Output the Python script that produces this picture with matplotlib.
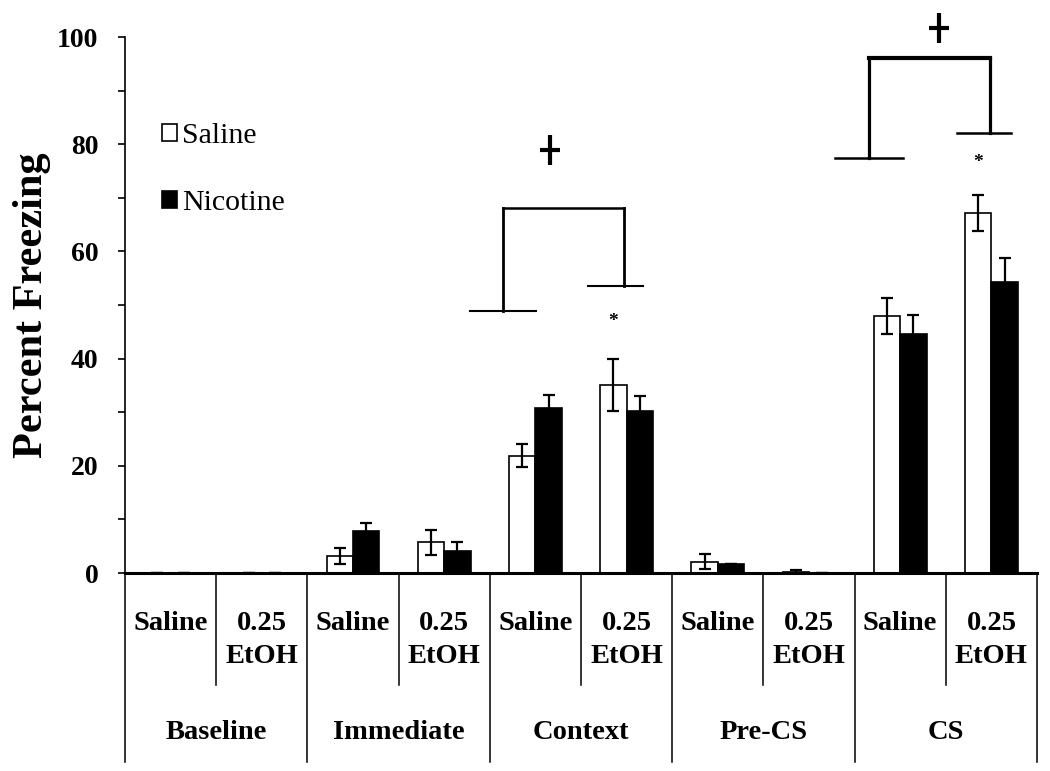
import numpy as np
import matplotlib.pyplot as plt
from matplotlib.transforms import blended_transform_factory

# data
phases = ["Baseline", "Immediate", "Context", "Pre-CS", "CS"]
groups = ["Saline", "0.25\nEtOH"]
saline = [0, 0, 3.2, 5.7, 21.9, 35.1, 2.1, 0.2, 47.9, 67.2]
saline_err = [0, 0, 1.5, 2.4, 2.2, 4.9, 1.4, 0.3, 3.4, 3.3]
nicotine = [0, 0, 7.8, 4.1, 30.8, 30.2, 1.6, 0.0, 44.5, 54.3]
nicotine_err = [0, 0, 1.5, 1.6, 2.5, 2.8, 0.0, 0.0, 3.6, 4.4]

plt.rcParams['font.family'] = ['Liberation Serif', 'DejaVu Serif']

fig = plt.figure(figsize=(10.5, 7.71), dpi=100)
ax = fig.add_axes([0.119, 0.2568, 0.8686, 0.6952])

x = np.arange(len(saline))
w = 0.29
off = 0.145
ax.bar(x - off, saline, w, color='white', edgecolor='black', lw=1.2,
       label='Saline', zorder=2)
ax.bar(x + off, nicotine, w, color='black', edgecolor='black', lw=1.2,
       label='Nicotine', zorder=2)
ax.errorbar(x - off, saline, yerr=saline_err, fmt='none', ecolor='black',
            elinewidth=1.6, capsize=4, capthick=1.6, zorder=3)
ax.errorbar(x + off, nicotine, yerr=nicotine_err, fmt='none', ecolor='black',
            elinewidth=1.6, capsize=4, capthick=1.6, zorder=3)

ax.set_xlim(-0.5, 9.5)
ax.set_ylim(0, 100)
ax.set_yticks(np.arange(0, 101, 20))
ax.set_yticks(np.arange(10, 100, 20), minor=True)
ax.tick_params(axis='y', which='both', direction='out', length=5, width=1.2,
               labelsize=20, pad=14)
for t in ax.get_yticklabels():
    t.set_fontweight('bold')
ax.set_xticks([])
ax.spines['top'].set_visible(False)
ax.spines['right'].set_visible(False)
ax.spines['left'].set_linewidth(1.2)
ax.spines['bottom'].set_linewidth(2.2)
ax.set_ylabel('Percent Freezing', fontsize=30.5, fontweight='bold')
ax.yaxis.set_label_coords(-0.081, 0.5)

# legend
ax.legend(loc='upper left', bbox_to_anchor=(0.041, 0.84), frameon=False,
          fontsize=21.5, handlelength=0.5, handleheight=0.5,
          handletextpad=0.15, labelspacing=1.38, borderpad=0,
          borderaxespad=0)

# table under the axis
trans = blended_transform_factory(ax.transData, ax.transAxes)
for i in range(len(x) + 1):
    xb = i - 0.5
    y_end = -0.353 if i % 2 == 0 else -0.209
    ax.plot([xb, xb], [0, y_end], color='black', lw=1.1, transform=trans,
            clip_on=False)
for i in x:
    ax.text(i, -0.07, groups[i % 2], transform=trans, ha='center', va='top',
            fontsize=20.5, fontweight='bold', linespacing=1.45)
for j, p in enumerate(phases):
    ax.text(2 * j + 0.5, -0.297, p, transform=trans, ha='center',
            va='center', fontsize=20.5, fontweight='bold')

# significance brackets
def bracket(x0, x1, yl, yr, ytop, hl, hr, lw, lwtop):
    ax.plot([hl[0], hl[1]], [yl, yl], color='black', lw=lw, clip_on=False)
    ax.plot([hr[0], hr[1]], [yr, yr], color='black', lw=lw, clip_on=False)
    ax.plot([x0, x0], [yl, ytop], color='black', lw=lw + 0.5, clip_on=False)
    ax.plot([x1, x1], [yr, ytop], color='black', lw=lw + 0.5, clip_on=False)
    ax.plot([x0, x1], [ytop, ytop], color='black', lw=lwtop, clip_on=False)

bracket(3.64, 4.97, 48.9, 53.5, 68.1, (3.28, 4.01), (4.58, 5.18), 1.5, 1.8)
bracket(7.66, 8.98, 77.5, 82.0, 96.1, (7.29, 8.03), (8.62, 9.22), 1.8, 3.0)

for px, py in [(4.16, 78.9), (8.43, 101.6)]:
    ax.plot(px, py, marker='|', ms=22, mew=3, color='black', clip_on=False)
    ax.plot(px, py, marker='_', ms=15, mew=3, color='black', clip_on=False)

for px, py in [(5 - off, 47.0), (9 - off, 76.6)]:
    ax.text(px, py, '*', ha='center', va='center', fontsize=14,
            fontweight='bold')

fig.savefig('out.png', dpi=100)
